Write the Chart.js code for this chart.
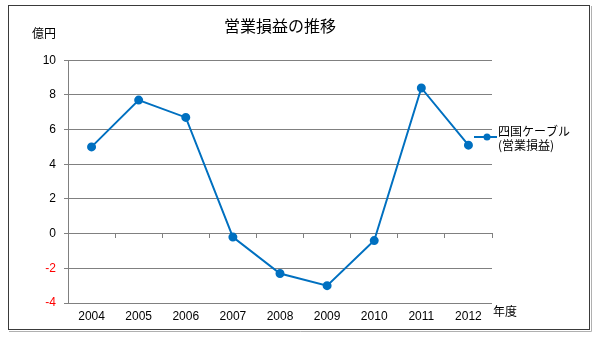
<!DOCTYPE html>
<html lang="ja">
<head>
<meta charset="utf-8">
<title>営業損益の推移</title>
<script src="https://cdn.jsdelivr.net/npm/chart.js@4/dist/chart.umd.min.js"></script>
<style>
    body { margin: 0; background: #fff; }
    canvas { display: block; }
</style>
</head>
<body>
<canvas id="profitChart" width="594" height="338"></canvas>
<script>
const years = ['2004', '2005', '2006', '2007', '2008', '2009', '2010', '2011', '2012'];
const operatingProfit = [5.0, 7.7, 6.7, -0.2, -2.3, -3.0, -0.4, 8.4, 5.1];
const seriesName = ['四国ケーブル', '(営業損益)'];
const chartTitle = '営業損益の推移';
const yUnit = '億円';
const xUnit = '年度';

const lineColor = '#0070C0';
const gridColor = '#808080';
const jpFont = "'Noto Sans CJK JP', sans-serif";
const numFont = "'Liberation Sans Narrow', 'Liberation Sans', sans-serif";

// frame, unit captions and the two-line legend
const decorations = {
    id: 'decorations',
    afterDraw(chart) {
        const ctx = chart.ctx;
        const area = chart.chartArea;
        ctx.save();

        ctx.strokeStyle = '#3a3a3a';
        ctx.lineWidth = 1;
        ctx.strokeRect(8.5, 5.5, 581, 324);
        ctx.strokeStyle = '#b0b0b0';
        ctx.beginPath();
        ctx.moveTo(9, 331.5);
        ctx.lineTo(591.5, 331.5);
        ctx.lineTo(591.5, 6);
        ctx.stroke();

        ctx.fillStyle = '#000';
        ctx.font = '12px ' + jpFont;
        ctx.textBaseline = 'middle';
        ctx.textAlign = 'right';
        ctx.fillText(yUnit, 56, 33);
        ctx.textAlign = 'left';
        ctx.fillText(xUnit, area.right + 1, 311);

        // legend entry
        const ly = 137;
        ctx.strokeStyle = lineColor;
        ctx.lineWidth = 2;
        ctx.beginPath();
        ctx.moveTo(area.right - 18, ly);
        ctx.lineTo(area.right + 5, ly);
        ctx.stroke();
        ctx.fillStyle = lineColor;
        ctx.beginPath();
        ctx.arc(area.right - 5, ly, 3.5, 0, Math.PI * 2);
        ctx.fill();

        ctx.fillStyle = '#000';
        ctx.fillText(seriesName[0], area.right + 6, 131);
        ctx.fillText(seriesName[1], area.right + 6, 145);

        ctx.restore();
    }
};

new Chart(document.getElementById('profitChart'), {
    type: 'line',
    data: {
        labels: years,
        datasets: [{
            label: seriesName.join(''),
            data: operatingProfit,
            borderColor: lineColor,
            backgroundColor: lineColor,
            borderWidth: 2,
            pointRadius: 3.5,
            pointHoverRadius: 3.5,
            pointBackgroundColor: lineColor,
            tension: 0,
            xAxisID: 'x'
        }]
    },
    options: {
        responsive: false,
        animation: false,
        layout: { padding: { left: 8, right: 102, top: 0, bottom: 0 } },
        plugins: {
            legend: { display: false },
            tooltip: { enabled: false },
            title: {
                display: true,
                text: chartTitle,
                fullSize: false,
                color: '#000',
                font: { family: jpFont, size: 16, weight: 'normal' },
                padding: { top: 16, bottom: 25 }
            }
        },
        scales: {
            x: {
                type: 'category',
                offset: true,
                grid: { display: false, drawTicks: false },
                border: { display: false },
                ticks: {
                    color: '#000',
                    padding: 6,
                    maxRotation: 0,
                    font: { family: numFont, size: 12 }
                },
                afterFit(scale) { scale.height = 35; }
            },
            // axis line across zero carrying the category tick marks
            x0: {
                type: 'category',
                labels: years,
                offset: true,
                position: { y: 0 },
                grid: { drawOnChartArea: false, offset: true, tickLength: 4, color: gridColor },
                border: { display: true, color: gridColor },
                ticks: { display: false }
            },
            y: {
                min: -4,
                max: 10,
                grid: { color: gridColor, tickLength: 4 },
                border: { display: true, color: gridColor },
                ticks: {
                    stepSize: 2,
                    padding: 8,
                    color: (c) => c.tick.value < 0 ? '#FF0000' : '#000',
                    font: { family: numFont, size: 12 }
                },
                afterFit(scale) { scale.width = 60; }
            }
        }
    },
    plugins: [decorations]
});
</script>
</body>
</html>
